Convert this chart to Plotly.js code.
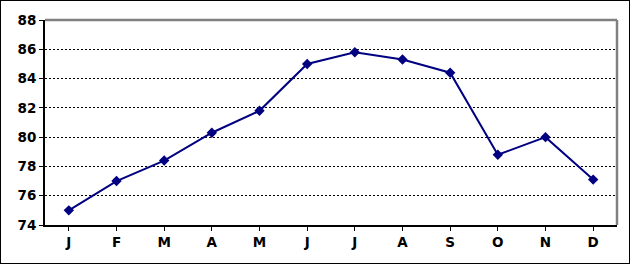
<!DOCTYPE html>
<html>
<head>
<meta charset="utf-8">
<script src="https://cdn.plot.ly/plotly-3.0.1.min.js"></script>
<style>
html,body{margin:0;padding:0;background:#fff;}
#wrap{position:relative;width:630px;height:264px;}
#chart{width:630px;height:264px;}
#frame{position:absolute;left:0;top:0;width:630px;height:264px;box-sizing:border-box;border:1px solid #000;pointer-events:none;}
</style>
</head>
<body>
<div id="wrap"><div id="chart"></div><div id="frame"></div></div>
<script>
var months = ["J","F","M","A","M","J","J","A","S","O","N","D"];
var monthIdx = [0,1,2,3,4,5,6,7,8,9,10,11];
var values = [75.0, 77.0, 78.4, 80.3, 81.8, 85.0, 85.8, 85.3, 84.4, 78.8, 80.0, 77.1];
var yTicks = [74,76,78,80,82,84,86,88];

var trace = {
  x: monthIdx,
  y: values,
  type: "scatter",
  mode: "lines+markers",
  line: {color: "#000080", width: 2},
  marker: {symbol: "diamond", size: 8, color: "#000080"},
  hoverinfo: "none"
};

var tf = {size: 13.5, weight: "bold", family: "'DejaVu Sans', Verdana, sans-serif", color: "#000"};

var layout = {
  width: 630, height: 264,
  margin: {l: 45, r: 13, t: 20, b: 39},
  paper_bgcolor: "#fff", plot_bgcolor: "#fff",
  showlegend: false,
  font: {family: "'DejaVu Sans', sans-serif", color: "#000"},
  xaxis: {
    range: [-0.5, 11.5],
    tickmode: "array", tickvals: monthIdx, ticktext: months,
    showgrid: false, zeroline: false,
    showline: true, linecolor: "#000", linewidth: 2,
    ticks: "outside", ticklen: 4, tickwidth: 1, tickcolor: "#000",
    tickson: "boundaries",
    tickfont: tf,
    fixedrange: true
  },
  yaxis: {
    range: [74, 88],
    tickmode: "array", tickvals: yTicks, ticktext: yTicks.map(String),
    showgrid: true, gridcolor: "#000", gridwidth: 1, griddash: "2px,2px",
    zeroline: false,
    showline: true, linecolor: "#000", linewidth: 2,
    ticks: "outside", ticklen: 4, tickwidth: 1, tickcolor: "#000",
    tickfont: tf,
    fixedrange: true
  },
  shapes: [
    {type: "line", xref: "paper", yref: "paper", x0: 0, x1: 1, y0: 1, y1: 1, line: {color: "#808080", width: 2.5}},
    {type: "line", xref: "paper", yref: "paper", x0: 1, x1: 1, y0: 0, y1: 1, line: {color: "#808080", width: 2.5}}
  ]
};

Plotly.newPlot("chart", [trace], layout, {staticPlot: true, displayModeBar: false});
</script>
</body>
</html>
